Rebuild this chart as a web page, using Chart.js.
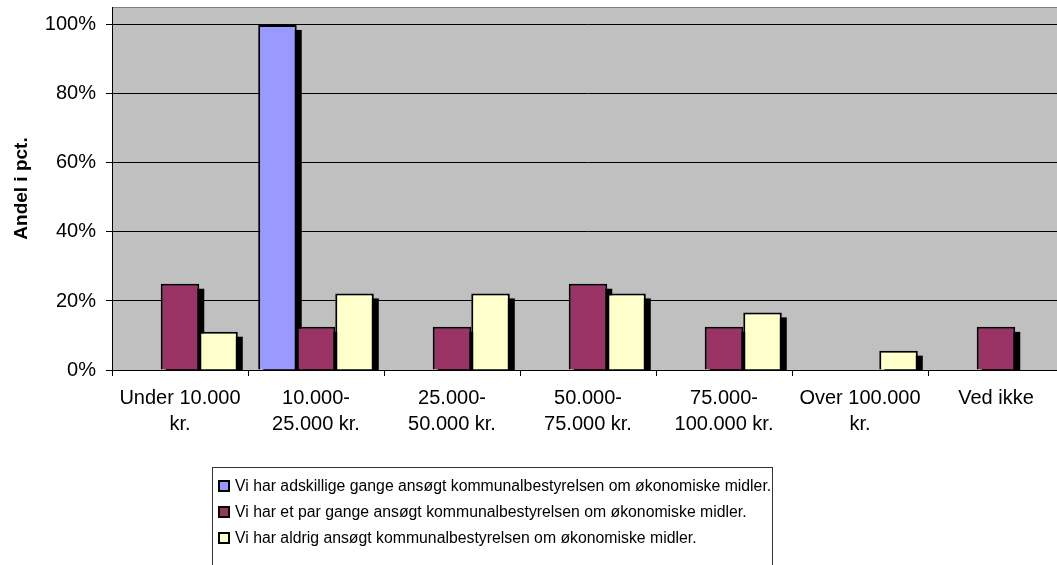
<!DOCTYPE html>
<html>
<head>
<meta charset="utf-8">
<script src="https://cdn.jsdelivr.net/npm/chart.js@4.4.0/dist/chart.umd.min.js"></script>
<style>
    html, body { margin: 0; padding: 0; background: #fff; overflow: hidden; }
    #wrap { position: relative; width: 1070px; height: 565px; }
    #legend {
        position: absolute; left: 212px; top: 467px; width: 561px; height: 110px;
        border: 1px solid #333; box-sizing: border-box;
        font-family: "Liberation Sans", Arial, sans-serif; font-size: 15.8px; color: #000;
        padding-top: 5px;
    }
    .item { height: 26px; line-height: 26px; white-space: nowrap; }
    .box { display: inline-block; width: 8px; height: 8px; border: 2px solid #000; margin: 0 5px 0 5px; vertical-align: -1px; }
</style>
</head>
<body>
<div id="wrap">
    <canvas id="chart" width="1070" height="565"></canvas>
    <div id="legend"></div>
</div>
<script>
const categories = [
    ['Under 10.000', 'kr.'],
    ['10.000-', '25.000 kr.'],
    ['25.000-', '50.000 kr.'],
    ['50.000-', '75.000 kr.'],
    ['75.000-', '100.000 kr.'],
    ['Over 100.000', 'kr.'],
    ['Ved ikke']
];
const seriesNames = [
    'Vi har adskillige gange ansøgt kommunalbestyrelsen om økonomiske midler.',
    'Vi har et par gange ansøgt kommunalbestyrelsen om økonomiske midler.',
    'Vi har aldrig ansøgt kommunalbestyrelsen om økonomiske midler.'
];
const adskillige = [0, 100, 0, 0, 0, 0, 0];
const etPar = [25, 12.5, 12.5, 25, 12.5, 0, 12.5];
const aldrig = [11.1, 22.2, 22.2, 22.2, 16.7, 5.6, 0];
const yTicks = [0, 20, 40, 60, 80, 100];
const colors = ['#9999FF', '#993366', '#FFFFCC'];

const font = '"Liberation Sans", Arial, sans-serif';

// gray plot area + top border
const plotBg = {
    id: 'plotBg',
    beforeDraw(chart) {
        const { ctx, chartArea: a } = chart;
        ctx.save();
        ctx.fillStyle = '#C0C0C0';
        ctx.fillRect(a.left, a.top, a.right - a.left, a.bottom - a.top);
        ctx.strokeStyle = '#808080';
        ctx.lineWidth = 1;
        ctx.beginPath();
        ctx.moveTo(a.left, a.top + 0.5);
        ctx.lineTo(a.right, a.top + 0.5);
        ctx.stroke();
        ctx.restore();
    }
};

// black drop shadow behind each bar
const barShadow = {
    id: 'barShadow',
    beforeDatasetsDraw(chart) {
        const { ctx, chartArea: a } = chart;
        ctx.save();
        ctx.beginPath();
        ctx.rect(a.left, a.top, a.right - a.left, a.bottom - a.top);
        ctx.clip();
        ctx.fillStyle = '#000';
        chart.data.datasets.forEach((ds, i) => {
            chart.getDatasetMeta(i).data.forEach((bar, j) => {
                if (!ds.data[j]) return;
                const p = bar.getProps(['x', 'y', 'base', 'width'], true);
                ctx.fillRect(p.x - p.width / 2 + 5, p.y + 5, p.width, p.base - p.y);
            });
        });
        ctx.restore();
    }
};

const datasets = [adskillige, etPar, aldrig].map((d, i) => ({
    label: seriesNames[i],
    data: d.map(v => v || null),
    backgroundColor: colors[i],
    borderColor: '#000',
    borderWidth: 2,
    borderSkipped: 'bottom',
    categoryPercentage: 0.85,
    barPercentage: 1
}));

new Chart(document.getElementById('chart'), {
    type: 'bar',
    data: { labels: categories, datasets: datasets },
    options: {
        responsive: false,
        animation: false,
        layout: { padding: { top: 7, right: 6, left: 0, bottom: 0 } },
        plugins: {
            legend: { display: false },
            tooltip: { enabled: false }
        },
        scales: {
            x: {
                grid: { display: true, drawOnChartArea: false, offset: true, color: '#000', tickLength: 6 },
                border: { color: '#000' },
                ticks: { color: '#000', font: { family: font, size: 20, lineHeight: 1.3 }, padding: 9, maxRotation: 0, autoSkip: false },
                afterFit(s) { s.height = 195; }
            },
            y: {
                min: 0,
                max: 105.2,
                afterBuildTicks(s) { s.ticks = yTicks.map(v => ({ value: v })); },
                grid: { color: '#000', tickLength: 6 },
                border: { color: '#000' },
                ticks: {
                    color: '#000', font: { family: font, size: 20 }, padding: 10,
                    callback: v => v + '%'
                },
                title: {
                    display: true, text: 'Andel i pct.', color: '#000',
                    font: { family: font, size: 19, weight: 'bold' }, padding: { top: 10, bottom: 0 }
                },
                afterFit(s) { s.width = 112; s.paddingTop = 0; s.paddingBottom = 0; }
            }
        }
    },
    plugins: [plotBg, barShadow]
});

// legend box
const legend = document.getElementById('legend');
seriesNames.forEach((name, i) => {
    const row = document.createElement('div');
    row.className = 'item';
    row.innerHTML = `<span class="box" style="background:${colors[i]}"></span>${name}`;
    legend.appendChild(row);
});
</script>
</body>
</html>
